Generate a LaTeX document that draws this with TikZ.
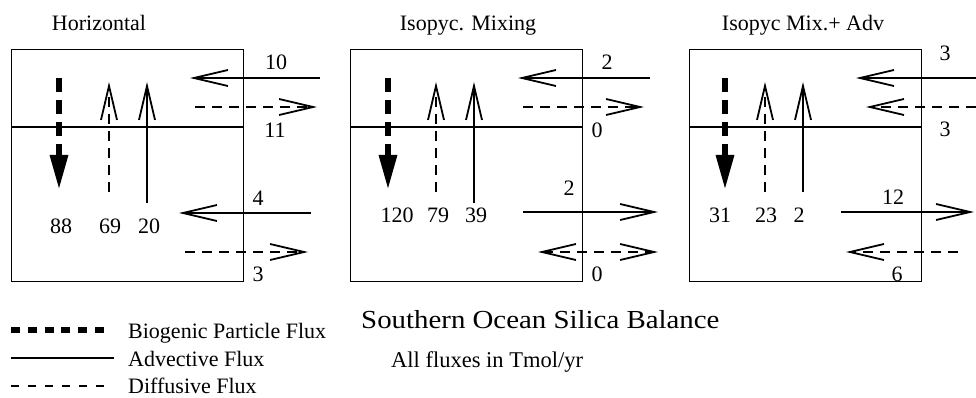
\documentclass[tikz,border=0pt]{standalone}
\usepackage{fontspec}
\setmainfont{Liberation Serif}
\usetikzlibrary{arrows.meta}

\tikzset{
  panel/.style={draw, line width=1.4pt, minimum width=232pt, minimum height=232pt, anchor=north west, inner sep=0pt},
  adv/.style={line width=1.8pt, -{Straight Barb[length=34pt,width=16pt,line width=1.8pt]}},
  dif/.style={line width=1.5pt, dash pattern=on 10pt off 7pt, -{Straight Barb[length=34pt,width=16pt,line width=1.8pt]}},
  difboth/.style={line width=1.5pt, dash pattern=on 10pt off 7pt, {Straight Barb[length=34pt,width=16pt,line width=1.8pt]}-{Straight Barb[length=34pt,width=16pt,line width=1.8pt]}},
  bio/.style={line width=6pt, dash pattern=on 14pt off 8pt, -{Triangle[length=35pt,width=17pt]}},
  divider/.style={line width=1.4pt},
  lbl/.style={inner sep=0pt, font=\fontsize{22}{26}\selectfont},
  ttl/.style={inner sep=0pt, anchor=base, font=\fontsize{22}{26}\selectfont},
  leg/.style={inner sep=0pt, anchor=base west, font=\fontsize{22}{26}\selectfont}
}

\begin{document}
\begin{tikzpicture}[x=1pt, y=-1pt]
\useasboundingbox (0,0) rectangle (976,398);

% ---------- titles ----------
\node[ttl] (t1) at (99,31) {Horizontal};
\node[ttl] (t2) at (468,31) {Isopyc. Mixing};
\node[ttl] (t3) at (803,31) {Isopyc Mix.+ Adv};

% ---------- panel 1: Horizontal ----------
\node[panel] (box1) at (11,49) {};
\coordinate (d1w) at (11,127); \coordinate (d1e) at (243,127);
\draw[divider] (d1w) -- (d1e);
\coordinate (b1s) at (59,78);  \coordinate (b1e) at (59,190);
\coordinate (f1s) at (109,192); \coordinate (f1e) at (109,82);
\coordinate (a1s) at (147,203); \coordinate (a1e) at (147,82);
\draw[bio] (b1s) -- (b1e);
\draw[dif] (f1s) -- (f1e);
\draw[adv] (a1s) -- (a1e);
\node[lbl] (n88) at (61,226) {88};
\node[lbl] (n69) at (110,226) {69};
\node[lbl] (n20) at (149,226) {20};
\coordinate (h1as) at (320,78);  \coordinate (h1ae) at (190,78);
\coordinate (h1ds) at (195,107); \coordinate (h1de) at (317,107);
\coordinate (l1as) at (311,213); \coordinate (l1ae) at (179,213);
\coordinate (l1ds) at (185,252); \coordinate (l1de) at (308,252);
\draw[adv] (h1as) -- (h1ae);
\draw[dif] (h1ds) -- (h1de);
\draw[adv] (l1as) -- (l1ae);
\draw[dif] (l1ds) -- (l1de);
\node[lbl] (n10) at (276,62) {10};
\node[lbl] (n11) at (275,130) {11};
\node[lbl] (n4)  at (258,198) {4};
\node[lbl] (n3)  at (258,274) {3};

% ---------- panel 2: Isopyc. Mixing ----------
\node[panel] (box2) at (350,49) {};
\coordinate (d2w) at (350,127); \coordinate (d2e) at (582,127);
\draw[divider] (d2w) -- (d2e);
\coordinate (b2s) at (388,78);  \coordinate (b2e) at (388,190);
\coordinate (f2s) at (436,192); \coordinate (f2e) at (436,82);
\coordinate (a2s) at (474,203); \coordinate (a2e) at (474,82);
\draw[bio] (b2s) -- (b2e);
\draw[dif] (f2s) -- (f2e);
\draw[adv] (a2s) -- (a2e);
\node[lbl] (n120) at (397,215) {120};
\node[lbl] (n79)  at (438,215) {79};
\node[lbl] (n39)  at (476,215) {39};
\coordinate (h2as) at (650,78);  \coordinate (h2ae) at (518,78);
\coordinate (h2ds) at (523,107); \coordinate (h2de) at (644,107);
\coordinate (l2as) at (523,212); \coordinate (l2ae) at (658,212);
\coordinate (l2dw) at (538,252); \coordinate (l2de) at (658,252);
\draw[adv] (h2as) -- (h2ae);
\draw[dif] (h2ds) -- (h2de);
\draw[adv] (l2as) -- (l2ae);
\draw[difboth] (l2dw) -- (l2de);
\node[lbl] (n2a) at (607,62) {2};
\node[lbl] (n0a) at (597,130) {0};
\node[lbl] (n2b) at (569,188) {2};
\node[lbl] (n0b) at (597,274) {0};

% ---------- panel 3: Isopyc Mix.+ Adv ----------
\node[panel] (box3) at (689,49) {};
\coordinate (d3w) at (689,127); \coordinate (d3e) at (921,127);
\draw[divider] (d3w) -- (d3e);
\coordinate (b3s) at (725,78);  \coordinate (b3e) at (725,190);
\coordinate (f3s) at (765,192); \coordinate (f3e) at (765,82);
\coordinate (a3s) at (803,192); \coordinate (a3e) at (803,82);
\draw[bio] (b3s) -- (b3e);
\draw[dif] (f3s) -- (f3e);
\draw[adv] (a3s) -- (a3e);
\node[lbl] (n31) at (720,215) {31};
\node[lbl] (n23) at (766,215) {23};
\node[lbl] (n2c) at (799,215) {2};
\coordinate (h3as) at (976,78);  \coordinate (h3ae) at (856,78);
\coordinate (h3ds) at (976,107); \coordinate (h3de) at (866,107);
\coordinate (l3as) at (841,212); \coordinate (l3ae) at (974,212);
\coordinate (l3ds) at (958,252); \coordinate (l3de) at (846,252);
\draw[adv] (h3as) -- (h3ae);
\draw[dif] (h3ds) -- (h3de);
\draw[adv] (l3as) -- (l3ae);
\draw[dif] (l3ds) -- (l3de);
\node[lbl] (n3a) at (945,53) {3};
\node[lbl] (n3b) at (945,129) {3};
\node[lbl] (n12) at (893,197) {12};
\node[lbl] (n6)  at (897,274) {6};

% ---------- legend ----------
\coordinate (lb1) at (11,330); \coordinate (lb2) at (104,330);
\coordinate (la1) at (11,358); \coordinate (la2) at (114,358);
\coordinate (ld1) at (11,386); \coordinate (ld2) at (104,386);
\draw[line width=6pt, dash pattern=on 9pt off 7.8pt] (lb1) -- (lb2);
\draw[line width=1.5pt] (la1) -- (la2);
\draw[line width=1.4pt, dash pattern=on 8pt off 9pt] (ld1) -- (ld2);
\node[leg] (lgb) at (128,338) {Biogenic Particle Flux};
\node[leg] (lga) at (128,366) {Advective Flux};
\node[leg] (lgd) at (128,393) {Diffusive Flux};

\node[leg, font=\fontsize{26}{30}\selectfont, xscale=1.11] (head) at (361,328) {Southern Ocean Silica Balance};
\node[leg, font=\fontsize{22.5}{26}\selectfont] (unit) at (391,367) {All fluxes in Tmol/yr};
\end{tikzpicture}
\end{document}
